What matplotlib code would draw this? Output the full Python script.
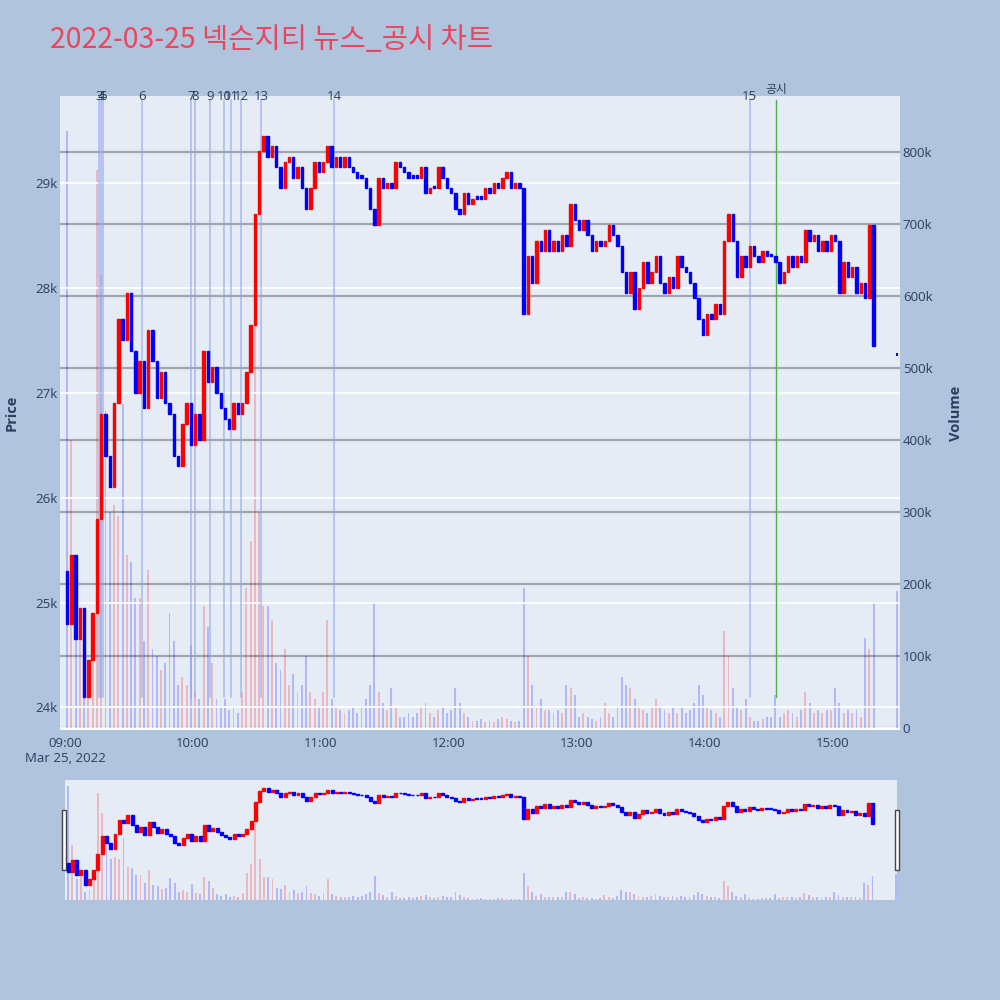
import matplotlib
matplotlib.use("Agg")
import matplotlib.dates as mdates
import matplotlib.pyplot as plt
import pandas as pd
from matplotlib.patches import Rectangle

plt.rcParams["font.family"] = ["Open Sans", "DejaVu Sans"]

# ---- data (2-minute candles) ----
TITLE = "2022-03-25 넥슨지티 뉴스_공시 차트"
DAY = "2022-03-25"
first_open = 25300
close_prices = [
    24800, 25450, 24650, 24950, 24100, 24450, 24900, 25800, 26800, 26400,
    26100, 26900, 27700, 27500, 27950, 27400, 27000, 27300, 26850, 27600,
    27300, 26950, 27200, 26900, 26800, 26400, 26300, 26700, 26900, 26500,
    26800, 26550, 27400, 27100, 27250, 27000, 26850, 26750, 26650, 26900,
    26800, 26900, 27200, 27650, 28700, 29300, 29450, 29250, 29350, 29150,
    28950, 29200, 29250, 29050, 29150, 28950, 28750, 28950, 29200, 29100,
    29200, 29350, 29150, 29250, 29150, 29250, 29150, 29100, 29050, 29050,
    28950, 28750, 28600, 29050, 28950, 29000, 28950, 29200, 29150, 29100,
    29050, 29050, 29050, 29150, 28900, 28950, 28950, 29150, 29050, 28950,
    28900, 28750, 28700, 28900, 28800, 28850, 28850, 28850, 28950, 28900,
    29000, 28950, 29050, 29100, 28950, 29000, 28950, 27750, 28300, 28050,
    28450, 28350, 28550, 28350, 28450, 28350, 28500, 28400, 28800, 28650,
    28550, 28650, 28500, 28350, 28450, 28400, 28450, 28600, 28500, 28400,
    28150, 27950, 28150, 27800, 28000, 28250, 28050, 28150, 28300, 28050,
    27950, 28100, 28000, 28300, 28200, 28150, 28050, 27900, 27700, 27550,
    27750, 27700, 27850, 27750, 28450, 28700, 28450, 28100, 28300, 28200,
    28400, 28300, 28250, 28350, 28300, 28300, 28250, 28050, 28150, 28300,
    28200, 28300, 28250, 28550, 28450, 28500, 28350, 28450, 28350, 28500,
    28450, 27950, 28250, 28100, 28200, 27950, 28050, 27900, 28600, 27450,
]
volumes_k = [
    830, 400, 150, 165, 60, 70, 150, 775, 630, 440,
    300, 310, 295, 450, 240, 230, 180, 180, 120, 220,
    110, 100, 80, 90, 160, 120, 60, 70, 60, 115,
    50, 40, 170, 140, 90, 40, 30, 40, 25, 30,
    20, 50, 195, 260, 560, 300, 170, 170, 150, 90,
    80, 110, 60, 75, 50, 60, 100, 50, 40, 30,
    50, 150, 40, 30, 25, 20, 25, 30, 20, 30,
    40, 60, 175, 50, 35, 25, 55, 30, 15, 15,
    20, 15, 20, 30, 35, 20, 15, 25, 30, 20,
    25, 55, 35, 20, 15, 10, 10, 12, 8, 10,
    8, 12, 15, 12, 10, 8, 10, 195, 100, 60,
    30, 40, 25, 25, 20, 25, 20, 60, 55, 45,
    15, 20, 15, 12, 10, 15, 35, 20, 15, 30,
    70, 60, 55, 40, 30, 25, 20, 30, 40, 30,
    25, 20, 30, 20, 30, 20, 25, 35, 60, 45,
    30, 25, 20, 15, 135, 100, 55, 30, 25, 40,
    15, 10, 10, 12, 15, 15, 45, 15, 20, 25,
    20, 15, 25, 50, 35, 20, 25, 20, 25, 25,
    55, 35, 20, 25, 20, 25, 15, 125, 110, 175,
]
# closing auction (15:30)
auction_time = "15:30"
auction_price = 27350
auction_volume_k = 190

news_labels = ["3", "4", "5", "6", "7", "8", "9", "10", "11", "12", "13", "14", "15"]
news_times = ["09:16", "09:17", "09:18", "09:36", "09:59", "10:01", "10:08",
              "10:14:30", "10:18", "10:22:40", "10:32", "11:06", "14:21"]
disclosure_label = "공시"
disclosure_time = "14:33:30"

# ---- style ----
BG = "#b0c4de"
PLOT_BG = "#e5ecf6"
TXT = "#2a3f5f"
UP = "#ff0000"
DOWN = "#0000ff"
MIN = 1 / 1440.0


def tnum(hhmm):
    return mdates.date2num(pd.Timestamp(f"{DAY} {hhmm}"))


starts = pd.date_range(f"{DAY} 09:00", periods=len(close_prices), freq="2min")
xs = [mdates.date2num(s) + MIN for s in starts]
opens = [first_open] + close_prices[:-1]
colors = [UP if c > o else DOWN for o, c in zip(opens, close_prices)]
x_auc = tnum(auction_time)


def draw_candles(ax, axv, width, vwidth):
    for x, o, c, col, v in zip(xs, opens, close_prices, colors, volumes_k):
        lo = min(o, c)
        h = max(abs(c - o), 25)
        ax.bar(x, h, bottom=lo, width=width, color=col, edgecolor=col,
               linewidth=1.0, zorder=3)
        axv.bar(x, v * 1000, width=vwidth, color=col, alpha=0.22,
                linewidth=0, zorder=2)
    ax.bar(x_auc, 25, bottom=auction_price, width=width * 0.6, color=DOWN,
           linewidth=0, zorder=3)
    axv.bar(x_auc, auction_volume_k * 1000, width=vwidth, color=DOWN,
            alpha=0.22, linewidth=0, zorder=2)


fig = plt.figure(figsize=(10, 10), dpi=100, facecolor=BG)

# main chart
ax_v = fig.add_axes([0.06, 0.27, 0.84, 0.634])
ax = ax_v.twinx()
ax.yaxis.tick_left()
ax.yaxis.set_label_position("left")
ax_v.yaxis.tick_right()
ax_v.yaxis.set_label_position("right")
ax.set_zorder(ax_v.get_zorder() + 1)
ax.patch.set_visible(False)
ax_v.set_facecolor(PLOT_BG)

draw_candles(ax, ax_v, 1.15 * MIN, 0.9 * MIN)

x0 = tnum("09:00")
ax.set_xlim(x0 - 2.34 * MIN, x0 + 391.4 * MIN)
ax.set_ylim(23785, 29829)
ax_v.set_ylim(-3000, 878000)

ax.set_yticks([24000, 25000, 26000, 27000, 28000, 29000])
ax.set_yticklabels([f"{v // 1000}k" for v in range(24000, 30000, 1000)])
vt = list(range(0, 800001, 100000))
ax_v.set_yticks(vt)
ax_v.set_yticklabels(["0" if v == 0 else f"{v // 1000}k" for v in vt])

ax.yaxis.grid(True, color="white", linewidth=1.3, zorder=1)
ax_v.yaxis.grid(True, color="#a0a4ab", linewidth=1.6, zorder=1)
ax_v.axhline(0, color="white", linewidth=2, zorder=1)
ax.set_axisbelow(True)
ax_v.set_axisbelow(True)

hours = [tnum(f"{h:02d}:00") for h in range(9, 16)]
ax_v.set_xticks(hours)
ax_v.set_xticklabels(["09:00\nMar 25, 2022"] + [f"{h:02d}:00" for h in range(10, 16)],
                     linespacing=1.25)
for a in (ax, ax_v):
    a.tick_params(length=0, colors=TXT, labelsize=9.5)
    for s in a.spines.values():
        s.set_visible(False)
ax.tick_params(axis="y", pad=2)
ax_v.tick_params(axis="y", pad=2)
ax_v.tick_params(axis="x", pad=5)

ax.set_ylabel("Price", color=TXT, fontsize=10.5, fontweight="bold", labelpad=12)
ax_v.set_ylabel("Volume", color=TXT, fontsize=10.5, fontweight="bold", labelpad=12)

# news / disclosure lines
for lab, t in zip(news_labels, news_times):
    xt = tnum(t)
    ax.axvline(xt, ymin=0.052, ymax=0.994, color="#8fa2ee", alpha=0.7,
               linewidth=1.1, zorder=2)
    ax.text(xt, 1.0, lab, transform=ax.get_xaxis_transform(), ha="center",
            va="center", fontsize=9.5, color=TXT, zorder=5)
xd = tnum(disclosure_time)
ax.axvline(xd, ymin=0.052, ymax=0.994, color="#4cb04c", linewidth=1, zorder=2)
ax.text(xd, 1.011, disclosure_label, transform=ax.get_xaxis_transform(),
        ha="center", va="center", fontsize=8.5, color=TXT,
        family=["Noto Sans CJK KR", "DejaVu Sans"])

# range slider
ax_sv = fig.add_axes([0.065, 0.10, 0.832, 0.12])
ax_s = ax_sv.twinx()
ax_s.set_zorder(ax_sv.get_zorder() + 1)
ax_s.patch.set_visible(False)
ax_sv.set_facecolor(PLOT_BG)
draw_candles(ax_s, ax_sv, 1.4 * MIN, 0.9 * MIN)
ax_s.set_xlim(x0 - 0.5 * MIN, x_auc + 0.5 * MIN)
ax_s.set_ylim(23270, 29890)
ax_sv.set_ylim(0, 870000)
for a in (ax_s, ax_sv):
    a.set_xticks([])
    a.set_yticks([])
    for s in a.spines.values():
        s.set_visible(False)

for hx in (0.062, 0.895):
    fig.add_artist(Rectangle((hx, 0.13), 0.004, 0.06, transform=fig.transFigure,
                             facecolor="white", edgecolor="#444444", linewidth=1))

fig.text(0.05, 0.96, TITLE, ha="left", va="center", fontsize=20.5, color="#e8475f",
         family=["Noto Sans CJK KR", "DejaVu Sans"])

fig.savefig("out.png", dpi=100, facecolor=BG)
